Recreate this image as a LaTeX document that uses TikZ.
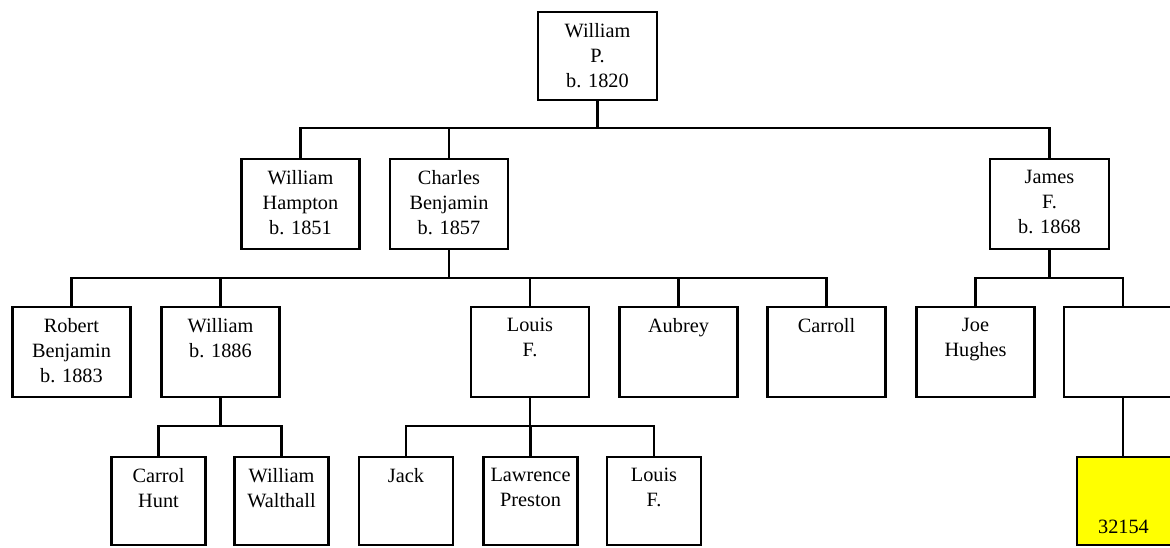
\documentclass[tikz,border=0pt]{standalone}
\usepackage{fontspec}
\setmainfont{Liberation Serif}
\begin{document}
\begin{tikzpicture}[x=1pt,y=-1pt,line width=2.4pt,
  person/.style={draw, rectangle, minimum width=118pt, minimum height=90pt, inner sep=0pt},
  smallbox/.style={person, minimum width=94pt, minimum height=88pt},
  lbl/.style={anchor=north, inner sep=0pt, align=center, font=\fontsize{20.3}{25}\selectfont},
  conn/.style={draw, line width=2.4pt},
]
\clip (0,0) rectangle (1170,547);
\useasboundingbox (0,0) rectangle (1170,547);
% row 1
\node[person, minimum height=88pt, minimum width=119pt] (wp) at (597.5,56) {};
% row 2
\node[person] (wh) at (300.5,204) {};
\node[person] (cb) at (449,204) {};
\node[person, minimum width=119pt] (jf) at (1049.5,204) {};
% row 3
\node[person] (rb) at (71.5,352) {};
\node[person] (wb) at (220.5,352) {};
\node[person] (lf) at (530,352) {};
\node[person] (au) at (678.5,352) {};
\node[person] (ca) at (826.5,352) {};
\node[person] (jh) at (975.5,352) {};
\node[person] (bl) at (1123,352) {};
% row 4
\node[smallbox] (ch) at (158.5,501) {};
\node[smallbox] (ww) at (281.5,501) {};
\node[smallbox] (ja) at (406,501) {};
\node[smallbox] (lp) at (530.5,501) {};
\node[smallbox] (lf2) at (654,501) {};
\node[smallbox, fill={rgb,255:red,255;green,255;blue,0}, minimum width=96pt] (yl) at (1125,501) {};
% labels
\node[lbl] (t-wp) at ([yshift=-11pt]wp.north) {William\\P.\\b. 1820};
\node[lbl] (t-wh) at ([yshift=-11pt]wh.north) {William\\Hampton\\b. 1851};
\node[lbl] (t-cb) at ([yshift=-11pt]cb.north) {Charles\\Benjamin\\b. 1857};
\node[lbl] (t-jf) at ([yshift=-11pt]jf.north) {James\\F.\\b. 1868};
\node[lbl] (t-rb) at ([yshift=-11pt]rb.north) {Robert\\Benjamin\\b. 1883};
\node[lbl] (t-wb) at ([yshift=-11pt]wb.north) {William\\b. 1886};
\node[lbl] (t-lf) at ([yshift=-11pt]lf.north) {Louis\\F.};
\node[lbl] (t-au) at ([yshift=-11pt]au.north) {Aubrey};
\node[lbl] (t-ca) at ([yshift=-11pt]ca.north) {Carroll};
\node[lbl] (t-jh) at ([yshift=-11pt]jh.north) {Joe\\Hughes};
\node[lbl] (t-ch) at ([yshift=-11pt]ch.north) {Carrol\\Hunt};
\node[lbl] (t-ww) at ([yshift=-11pt]ww.north) {William\\Walthall};
\node[lbl] (t-ja) at ([yshift=-11pt]ja.north) {Jack};
\node[lbl] (t-lp) at ([yshift=-11pt]lp.north) {Lawrence\\Preston};
\node[lbl] (t-lf2) at ([yshift=-11pt]lf2.north) {Louis\\F.};
\node[anchor=base, inner sep=0pt, font=\fontsize{20.3}{25}\selectfont] (t-yl) at ([xshift=-1.5pt,yshift=13pt]yl.south) {32154};
% bars
\coordinate (b1) at (597.5,128);
\coordinate (b2) at (449,278);
\coordinate (b3) at (1049.5,278);
\coordinate (b4) at (220.5,426);
\coordinate (b5) at (530,426);
% connectors
\draw[conn] (wp.south) -- (b1);
\draw[conn] (wh.north) |- (b1) -| (jf.north);
\draw[conn] (cb.north) -- (cb.north |- b1);
\draw[conn] (cb.south) -- (b2);
\draw[conn] (rb.north) |- (b2) -| (ca.north);
\draw[conn] (wb.north) -- (wb.north |- b2);
\draw[conn] (lf.north) -- (lf.north |- b2);
\draw[conn] (au.north) -- (au.north |- b2);
\draw[conn] (jf.south) -- (b3);
\draw[conn] (jh.north) |- (b3) -| (bl.north);
\draw[conn] (wb.south) -- (b4);
\draw[conn] (ch.north) |- (b4) -| (ww.north);
\draw[conn] (lf.south) -- (b5);
\draw[conn] (ja.north) |- (b5) -| (lf2.north);
\draw[conn] (lp.north) -- (lp.north |- b5);
\draw[conn] (bl.south) -- (bl.south |- yl.north);
\end{tikzpicture}
\end{document}
